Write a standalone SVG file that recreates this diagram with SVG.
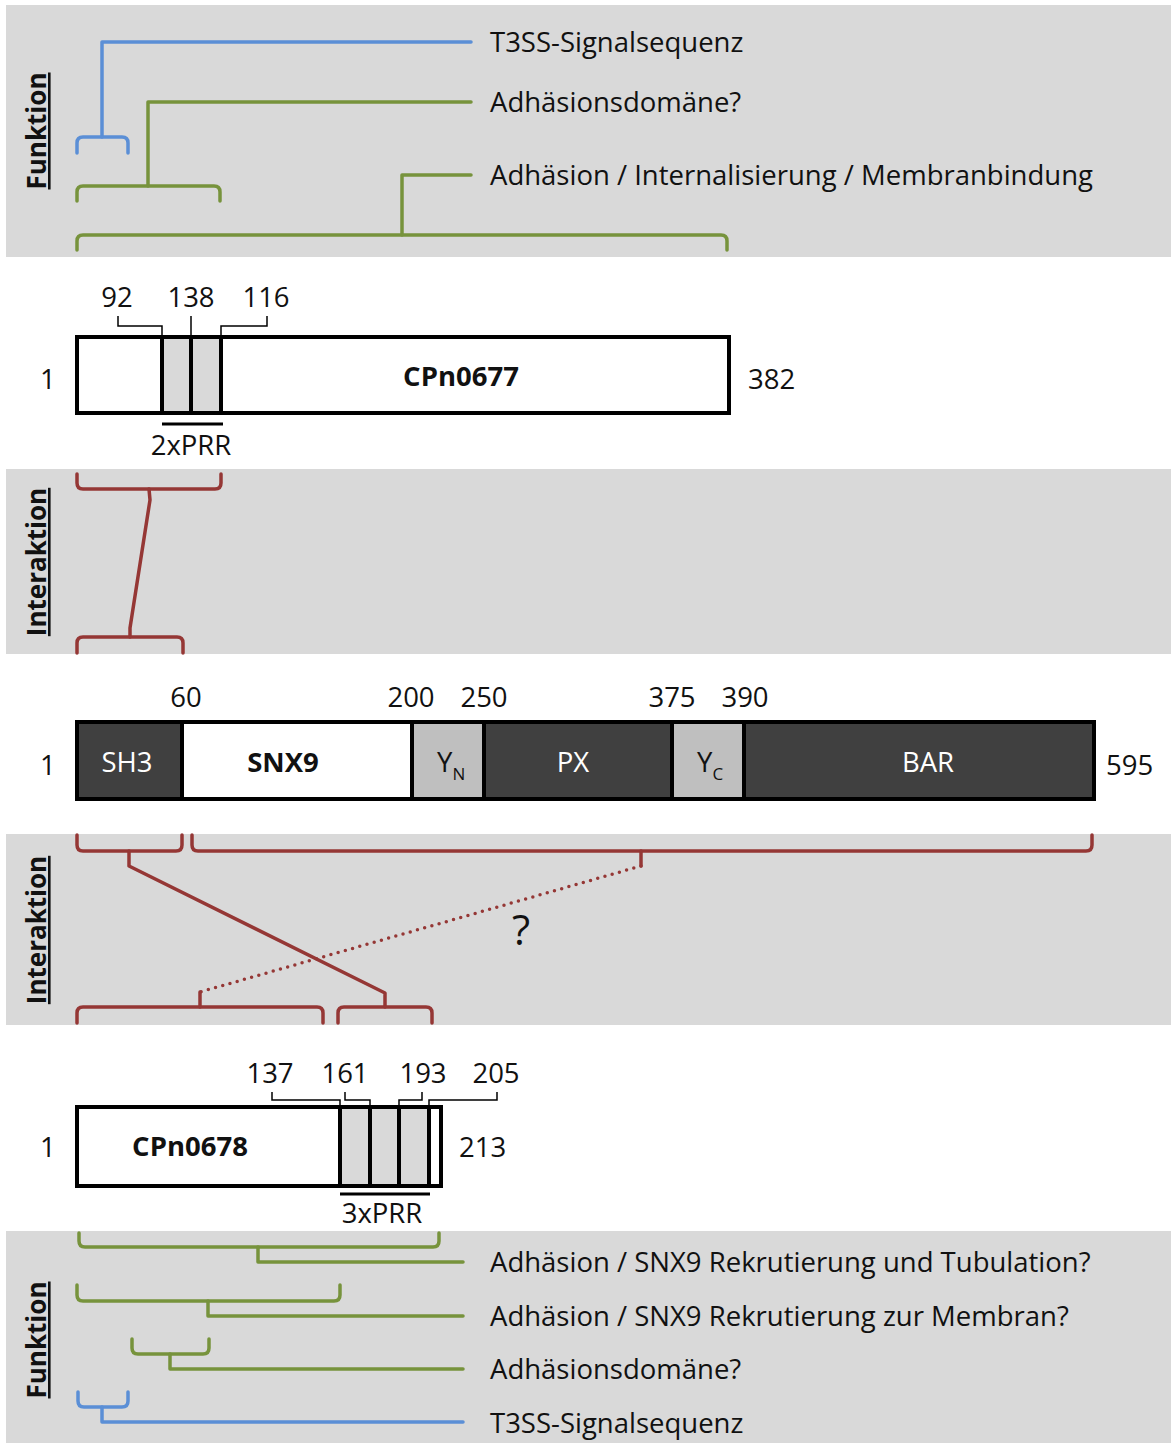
<svg xmlns="http://www.w3.org/2000/svg" width="1171" height="1443" viewBox="0 0 1171 1443">
<style>
.panel{fill:#d9d9d9}
.t{font-family:"Open Sans","Liberation Sans",sans-serif;font-size:27.5px;fill:#111}
.b{font-weight:bold}
.w{fill:#fff}
.m{text-anchor:middle}
.q{font-size:42px}
.vl{font-family:"Open Sans","Liberation Sans",sans-serif;font-size:26px;font-weight:bold;fill:#111;text-anchor:middle;text-decoration:underline}
.blue{fill:none;stroke:#5b8fd6;stroke-width:3.5;stroke-linecap:round;stroke-linejoin:round}
.green{fill:none;stroke:#77933c;stroke-width:3.5;stroke-linecap:round;stroke-linejoin:round}
.red{fill:none;stroke:#953735;stroke-width:3.5;stroke-linecap:round;stroke-linejoin:round}
.dot{fill:none;stroke:#953735;stroke-width:3.5;stroke-linecap:round;stroke-dasharray:0 7.5}
.box{stroke:#000;stroke-width:4}
.div{stroke:#000;stroke-width:4}
.lead{fill:none;stroke:#000;stroke-width:1.5}
.bar{stroke:#000;stroke-width:3}
</style>
<g id="panels">
<rect class="panel" x="6" y="5" width="1165" height="252"/>
<rect class="panel" x="6" y="469" width="1165" height="185"/>
<rect class="panel" x="6" y="834" width="1165" height="191"/>
<rect class="panel" x="6" y="1231" width="1165" height="212"/>
</g>
<g id="section-labels">
<text class="vl" transform="translate(46,131) rotate(-90)">Funktion</text>
<text class="vl" transform="translate(46,562) rotate(-90)">Interaktion</text>
<text class="vl" transform="translate(46,930) rotate(-90)">Interaktion</text>
<text class="vl" transform="translate(46,1340) rotate(-90)">Funktion</text>
</g>
<g id="connectors">
<path class="blue" d="M471,42 L102,42 L102,137"/>
<path class="blue" d="M77,153 L77,143 Q77,137 83,137 L122,137 Q128,137 128,143 L128,153"/>
<path class="green" d="M471,102 L148,102 L148,186"/>
<path class="green" d="M77,201 L77,192 Q77,186 83,186 L214,186 Q220,186 220,192 L220,201"/>
<path class="green" d="M471,175 L402,175 L402,235"/>
<path class="green" d="M77,250 L77,241 Q77,235 83,235 L721,235 Q727,235 727,241 L727,250"/>
<path class="red" d="M77,474 L77,483 Q77,489 83,489 L215,489 Q221,489 221,483 L221,474"/>
<path class="red" d="M149,489 L150,500 L130,628 L130,637"/>
<path class="red" d="M77,653 L77,643 Q77,637 83,637 L177,637 Q183,637 183,643 L183,653"/>
<path class="red" d="M77,835 L77,845 Q77,851 83,851 L176,851 Q182,851 182,845 L182,835"/>
<path class="red" d="M192,835 L192,845 Q192,851 198,851 L1086,851 Q1092,851 1092,845 L1092,835"/>
<path class="red" d="M129,851 L129,866 L385,993 L385,1007"/>
<path class="red" d="M641,851 L641,866"/>
<path class="dot" d="M641,866 L200,992"/>
<path class="red" d="M200,1007 L200,992"/>
<path class="red" d="M77,1023 L77,1013 Q77,1007 83,1007 L317,1007 Q323,1007 323,1013 L323,1023"/>
<path class="red" d="M338,1023 L338,1013 Q338,1007 344,1007 L426,1007 Q432,1007 432,1013 L432,1023"/>
<path class="green" d="M79,1233 L79,1241 Q79,1247 85,1247 L433,1247 Q439,1247 439,1241 L439,1233"/>
<path class="green" d="M258,1247 L258,1262 L463,1262"/>
<path class="green" d="M77,1285 L77,1295 Q77,1301 83,1301 L334,1301 Q340,1301 340,1295 L340,1285"/>
<path class="green" d="M208,1301 L208,1316 L463,1316"/>
<path class="green" d="M132,1339 L132,1348 Q132,1354 138,1354 L203,1354 Q209,1354 209,1348 L209,1339"/>
<path class="green" d="M170,1354 L170,1369 L463,1369"/>
<path class="blue" d="M78,1392 L78,1401 Q78,1407 84,1407 L122,1407 Q128,1407 128,1401 L128,1392"/>
<path class="blue" d="M102,1407 L102,1422 L463,1422"/>
</g>
<g id="function-labels-top">
<text class="t" x="490" y="52">T3SS-Signalsequenz</text>
<text class="t" x="490" y="112">Adhäsionsdomäne?</text>
<text class="t" x="490" y="185">Adhäsion / Internalisierung / Membranbindung</text>
</g>
<g id="cpn0677">
<rect class="box" x="77" y="337" width="652" height="76" fill="#fff"/>
<rect x="162" y="339" width="59" height="72" fill="#d9d9d9"/>
<line class="div" x1="162" y1="337" x2="162" y2="413"/>
<line class="div" x1="191" y1="337" x2="191" y2="413"/>
<line class="div" x1="221" y1="337" x2="221" y2="413"/>
<path class="lead" d="M118,316 L118,326 L162,326 L162,337"/>
<path class="lead" d="M191,316 L191,337"/>
<path class="lead" d="M267,316 L267,326 L221,326 L221,337"/>
<line class="bar" x1="162" y1="424" x2="223" y2="424"/>
<text class="t m" x="117" y="307">92</text>
<text class="t m" x="191" y="307">138</text>
<text class="t m" x="266" y="307">116</text>
<text class="t m" x="191" y="455">2xPRR</text>
<text class="t m b" x="461" y="386">CPn0677</text>
<text class="t" x="40" y="389">1</text>
<text class="t" x="748" y="389">382</text>
</g>
<g id="snx9">
<rect x="77" y="722" width="105" height="77" fill="#404040"/>
<rect x="182" y="722" width="230" height="77" fill="#fff"/>
<rect x="412" y="722" width="72" height="77" fill="#bfbfbf"/>
<rect x="484" y="722" width="188" height="77" fill="#404040"/>
<rect x="672" y="722" width="72" height="77" fill="#bfbfbf"/>
<rect x="744" y="722" width="350" height="77" fill="#404040"/>
<rect class="box" x="77" y="722" width="1017" height="77" fill="none"/>
<line class="div" x1="182" y1="722" x2="182" y2="799"/>
<line class="div" x1="412" y1="722" x2="412" y2="799"/>
<line class="div" x1="484" y1="722" x2="484" y2="799"/>
<line class="div" x1="672" y1="722" x2="672" y2="799"/>
<line class="div" x1="744" y1="722" x2="744" y2="799"/>
<text class="t m" x="186" y="707">60</text>
<text class="t m" x="411" y="707">200</text>
<text class="t m" x="484" y="707">250</text>
<text class="t m" x="672" y="707">375</text>
<text class="t m" x="745" y="707">390</text>
<text class="t m w" x="127" y="772">SH3</text>
<text class="t m b" x="283" y="772">SNX9</text>
<text class="t" x="437" y="772">Y<tspan font-size="17" dy="8">N</tspan></text>
<text class="t m w" x="573" y="772">PX</text>
<text class="t" x="697" y="772">Y<tspan font-size="17" dy="8">C</tspan></text>
<text class="t m w" x="928" y="772">BAR</text>
<text class="t" x="40" y="775">1</text>
<text class="t" x="1106" y="775">595</text>
</g>
<text class="t q" x="512" y="945">?</text>
<g id="cpn0678">
<rect class="box" x="77" y="1107" width="364" height="79" fill="#fff"/>
<rect x="340" y="1109" width="89" height="75" fill="#d9d9d9"/>
<line class="div" x1="340" y1="1107" x2="340" y2="1186"/>
<line class="div" x1="370" y1="1107" x2="370" y2="1186"/>
<line class="div" x1="399" y1="1107" x2="399" y2="1186"/>
<line class="div" x1="429" y1="1107" x2="429" y2="1186"/>
<path class="lead" d="M272,1092 L272,1100 L340,1100 L340,1107"/>
<path class="lead" d="M345,1092 L345,1100 L370,1100 L370,1107"/>
<path class="lead" d="M422,1092 L422,1100 L399,1100 L399,1107"/>
<path class="lead" d="M497,1092 L497,1100 L429,1100 L429,1107"/>
<line class="bar" x1="340" y1="1194" x2="430" y2="1194"/>
<text class="t m" x="270" y="1083">137</text>
<text class="t m" x="345" y="1083">161</text>
<text class="t m" x="423" y="1083">193</text>
<text class="t m" x="496" y="1083">205</text>
<text class="t m" x="382" y="1223">3xPRR</text>
<text class="t m b" x="190" y="1156">CPn0678</text>
<text class="t" x="40" y="1157">1</text>
<text class="t" x="459" y="1157">213</text>
</g>
<g id="function-labels-bottom">
<text class="t" x="490" y="1272">Adhäsion / SNX9 Rekrutierung und Tubulation?</text>
<text class="t" x="490" y="1326">Adhäsion / SNX9 Rekrutierung zur Membran?</text>
<text class="t" x="490" y="1379">Adhäsionsdomäne?</text>
<text class="t" x="490" y="1433">T3SS-Signalsequenz</text>
</g>
</svg>
